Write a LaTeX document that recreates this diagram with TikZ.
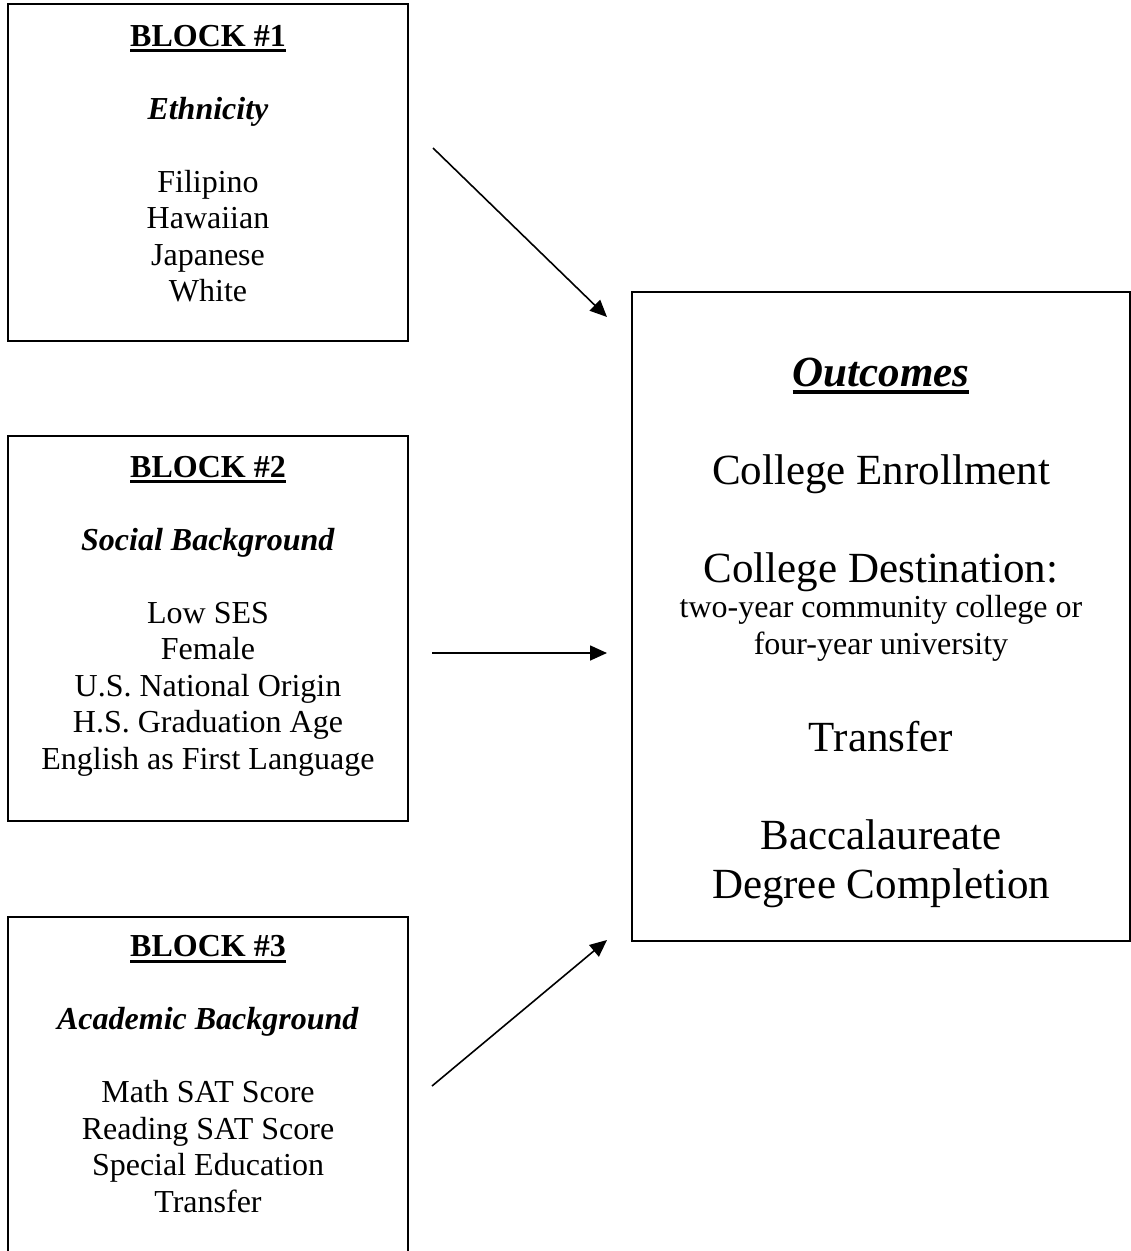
\documentclass[tikz,border=0pt]{standalone}
\usepackage{fontspec}
\setmainfont{Liberation Serif}
\usetikzlibrary{positioning, arrows.meta}
\newcommand{\ulhead}[2][3]{\setbox0\hbox{#2}\rlap{\vrule width\wd0 height -#1pt depth \numexpr2*#1\relax pt}\box0}

\begin{document}
\begin{tikzpicture}[x=1pt, y=-1pt,
  >={Triangle[length=17pt, width=15pt]},
  blockbox/.style={draw, line width=1.4pt, minimum width=400pt, inner sep=0pt},
  blocktext/.style={font=\fontsize{32}{36.5}\selectfont, align=center, inner sep=0pt},
  outbig/.style={font=\fontsize{43}{49}\selectfont, align=center, inner sep=0pt},
  outsmall/.style={font=\fontsize{32}{37}\selectfont, align=center, inner sep=0pt},
  feedarr/.style={->, line width=1.6pt},
]
  \useasboundingbox (0,0) rectangle (1131,1251);
  \clip (0,0) rectangle (1131,1251);

  % Block boxes, left column
  \node[blockbox, minimum height=337pt] (B1) at (208,172.5) {};
  \node[blockbox, minimum height=385pt] (B2) at (208,628.5) {};
  \node[blockbox, minimum height=400pt] (B3) at (208,1117) {};

  % Outcomes box, right
  \node[draw, line width=1.4pt, minimum width=498pt, minimum height=649pt,
        inner sep=0pt] (OUT) at (881,616.5) {};

  % Block texts
  \node[blocktext, below=17pt of B1.north] (T1)
    {\strut\ulhead{\bfseries BLOCK \#1}\\\strut\\
     \strut\textbf{\textit{Ethnicity}}\\\strut\\
     \strut Filipino\\\strut Hawaiian\\\strut Japanese\\\strut White};
  \node[blocktext, below=16pt of B2.north] (T2)
    {\strut\ulhead{\bfseries BLOCK \#2}\\\strut\\
     \strut\textbf{\textit{Social Background}}\\\strut\\
     \strut Low SES\\\strut Female\\\strut U.S. National Origin\\
     \strut H.S. Graduation Age\\\strut English as First Language};
  \node[blocktext, below=14.5pt of B3.north] (T3)
    {\strut\ulhead{\bfseries BLOCK \#3}\\\strut\\
     \strut\textbf{\textit{Academic Background}}\\\strut\\
     \strut Math SAT Score\\\strut Reading SAT Score\\
     \strut Special Education\\\strut Transfer};

  % Outcomes texts
  \node[outbig, below=60.5pt of OUT.north] (O1)
    {\strut\ulhead[4]{\bfseries\itshape Outcomes}\\\strut\\
     \strut College Enrollment\\\strut\\
     \strut College Destination:};
  \node[outsmall, below=300pt of OUT.north] (O2)
    {\strut two-year community college or\\\strut four-year university};
  \node[outbig, below=425.5pt of OUT.north] (O3)
    {\strut Transfer\\\strut\\
     \strut Baccalaureate\\\strut Degree Completion};

  % Arrows into outcomes
  \coordinate (A1from) at (433,148);
  \coordinate (A1to) at (607,317);
  \coordinate (A2from) at (432,653);
  \coordinate (A2to) at (607,653);
  \coordinate (A3from) at (432,1086);
  \coordinate (A3to) at (607,940);
  \draw[feedarr] (A1from) -- (A1to);
  \draw[feedarr] (A2from) -- (A2to);
  \draw[feedarr] (A3from) -- (A3to);
\end{tikzpicture}
\end{document}
